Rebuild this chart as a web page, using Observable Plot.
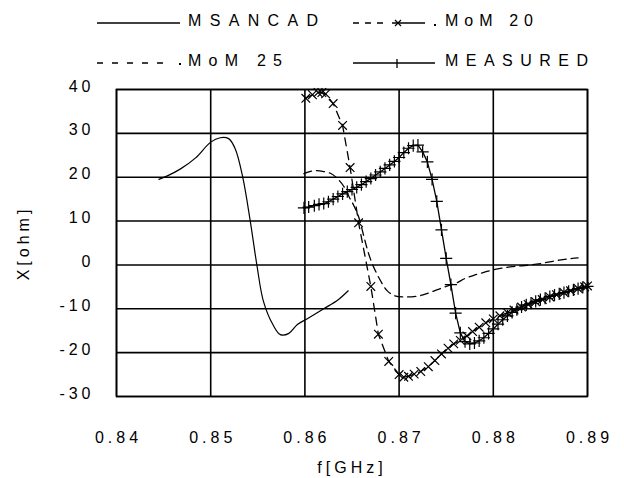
<!DOCTYPE html>
<html>
<head>
<meta charset="utf-8">
<script src="https://cdn.jsdelivr.net/npm/d3@7"></script>
<script src="https://cdn.jsdelivr.net/npm/@observablehq/plot@0.6"></script>
<style>
  html, body { margin: 0; padding: 0; background: #fff; }
  body { width: 624px; height: 478px; overflow: hidden; font-family: "Liberation Sans", Arial, sans-serif; }
  #legend { display: block; }
</style>
</head>
<body>
<svg id="legend" width="624" height="75"></svg>
<div id="chart"></div>
<script>
// ---- Data ----
const xTicks = [0.84, 0.85, 0.86, 0.87, 0.88, 0.89];
const yTicks = [-30, -20, -10, 0, 10, 20, 30, 40];

const seriesNames = ["MSANCAD", "MoM 20", "MoM 25", "MEASURED"];

const msancadF = [0.8445, 0.8454, 0.8468, 0.8484, 0.8500, 0.8510, 0.8519, 0.8526, 0.8534, 0.8542, 0.8549, 0.8556, 0.8566, 0.8574, 0.8583, 0.8592, 0.8603, 0.8620, 0.8635, 0.8646];
const msancadX = [19.5, 20.3, 21.9, 24.4, 28.0, 29.0, 28.8, 26.5, 20.0, 10.0, 0.0, -8.3, -13.6, -15.9, -15.6, -13.6, -12.2, -10.0, -8.0, -5.9];

const mom20F = [0.8601, 0.8608, 0.8614, 0.8618, 0.8622, 0.8630, 0.8640, 0.8648, 0.8657, 0.8670, 0.8678, 0.8689, 0.8700, 0.8705, 0.8710, 0.8716, 0.8723, 0.8731, 0.8738, 0.8745, 0.8752, 0.8758, 0.8765, 0.8772, 0.8778, 0.8785, 0.8792, 0.8800, 0.8807, 0.8815, 0.8822, 0.8830, 0.8837, 0.8845, 0.8852, 0.8860, 0.8867, 0.8875, 0.8882, 0.8890, 0.8897, 0.8900];
const mom20X = [38.0, 38.8, 39.3, 39.3, 39.0, 36.8, 31.8, 22.2, 9.6, -4.9, -15.8, -22.0, -25.0, -25.6, -25.4, -24.9, -24.3, -23.2, -21.8, -20.3, -19.0, -18.0, -17.2, -16.2, -15.2, -14.2, -13.2, -12.3, -11.6, -10.9, -10.3, -9.6, -9.0, -8.4, -7.9, -7.3, -6.8, -6.3, -5.9, -5.4, -5.0, -4.8];

const mom25F = [0.8599, 0.8605, 0.8612, 0.8620, 0.8628, 0.8634, 0.8641, 0.8647, 0.8652, 0.8657, 0.8662, 0.8667, 0.8672, 0.8680, 0.8687, 0.8695, 0.8705, 0.8720, 0.8730, 0.8740, 0.8750, 0.8760, 0.8770, 0.8780, 0.8790, 0.8800, 0.8810, 0.8820, 0.8830, 0.8840, 0.8850, 0.8860, 0.8870, 0.8880, 0.8890];
const mom25X = [20.8, 21.3, 21.5, 21.3, 20.8, 19.8, 18.0, 15.5, 13.5, 11.0, 7.0, 3.0, 0.0, -3.5, -5.8, -7.0, -7.3, -7.1, -6.5, -5.7, -4.9, -4.2, -3.1, -2.3, -1.7, -1.1, -0.7, -0.4, -0.2, 0.0, 0.3, 0.7, 1.1, 1.4, 1.6];

const measF = [0.8599, 0.8604, 0.8610, 0.8615, 0.8620, 0.8625, 0.8630, 0.8635, 0.8640, 0.8645, 0.8650, 0.8655, 0.8660, 0.8665, 0.8670, 0.8675, 0.8680, 0.8685, 0.8690, 0.8695, 0.8700, 0.8705, 0.8710, 0.8715, 0.8720, 0.8725, 0.8730, 0.8735, 0.8740, 0.8745, 0.8750, 0.8755, 0.8760, 0.8765, 0.8770, 0.8775, 0.8780, 0.8785, 0.8790, 0.8795, 0.8800, 0.8805, 0.8810, 0.8815, 0.8820, 0.8825, 0.8830, 0.8835, 0.8840, 0.8845, 0.8850, 0.8855, 0.8860, 0.8865, 0.8870, 0.8875, 0.8880, 0.8885, 0.8890, 0.8895, 0.8900];
const measX = [13.0, 13.2, 13.5, 13.8, 14.0, 14.4, 15.0, 15.6, 16.2, 16.7, 17.2, 17.7, 18.3, 19.0, 19.7, 20.5, 21.2, 22.0, 22.8, 23.6, 24.5, 25.6, 26.6, 27.2, 27.3, 25.8, 23.5, 19.5, 14.5, 8.0, 1.5, -4.5, -11.0, -15.5, -17.5, -18.0, -17.8, -17.3, -16.6, -15.6, -14.6, -13.5, -12.5, -11.6, -10.8, -10.2, -9.6, -9.1, -8.7, -8.3, -7.9, -7.6, -7.2, -6.9, -6.6, -6.3, -6.0, -5.7, -5.4, -5.1, -4.9];

const toRows = (fs, xs) => fs.map((f, i) => ({f, x: xs[i]}));
const msancad = toRows(msancadF, msancadX);
const mom20 = toRows(mom20F, mom20X);
const mom25 = toRows(mom25F, mom25X);
const meas = toRows(measF, measX);

// ---- Legend ----
const ns = "http://www.w3.org/2000/svg";
const lg = document.getElementById("legend");
function el(tag, attrs) {
  const e = document.createElementNS(ns, tag);
  for (const k in attrs) e.setAttribute(k, attrs[k]);
  lg.appendChild(e);
  return e;
}
function label(txt, x, y, len) {
  const t = el("text", {x, y, textLength: len, lengthAdjust: "spacing",
    "font-family": "Liberation Sans, Arial, sans-serif", "font-size": 16, fill: "#000"});
  t.textContent = txt;
}
// MSANCAD
el("line", {x1: 97, x2: 180, y1: 23, y2: 23, stroke: "#000", "stroke-width": 1.3});
label(seriesNames[0], 188, 26, 130);
// MoM 20
el("line", {x1: 353, x2: 388, y1: 23, y2: 23, stroke: "#000", "stroke-width": 1.3, "stroke-dasharray": "6,6"});
el("line", {x1: 392, x2: 425, y1: 23, y2: 23, stroke: "#000", "stroke-width": 1.3});
el("path", {d: "M395,20L401,26M401,20L395,26", stroke: "#000", "stroke-width": 1.2});
el("rect", {x: 434, y: 24, width: 2, height: 2, fill: "#000"});
label(seriesNames[1], 445, 26, 88);
// MoM 25
el("line", {x1: 97, x2: 166, y1: 63, y2: 63, stroke: "#000", "stroke-width": 1.3, "stroke-dasharray": "6,9"});
el("rect", {x: 179, y: 63, width: 2, height: 2, fill: "#000"});
label(seriesNames[2], 188, 66, 94);
// MEASURED
el("line", {x1: 353, x2: 435, y1: 63, y2: 63, stroke: "#000", "stroke-width": 1.3});
el("line", {x1: 397, x2: 397, y1: 59, y2: 68, stroke: "#000", "stroke-width": 1.3});
label(seriesNames[3], 445, 66, 143);

// ---- Chart ----
const textStyle = {fontFamily: "Liberation Sans, Arial, sans-serif", fontSize: "16px", letterSpacing: "4px", color: "#000"};

const chart = Plot.plot({
  width: 624,
  height: 403,
  marginLeft: 116,
  marginRight: 37,
  marginTop: 14,
  marginBottom: 82,
  style: {...textStyle, background: "#fff", overflow: "visible"},
  x: {domain: [0.84, 0.89]},
  y: {domain: [-30, 40]},
  marks: [
    Plot.gridX(xTicks, {stroke: "#000", strokeOpacity: 1, strokeWidth: 1.6}),
    Plot.gridY(yTicks, {stroke: "#000", strokeOpacity: 1, strokeWidth: 1.6}),
    Plot.frame({stroke: "#000", strokeWidth: 1.6}),
    Plot.axisX({ticks: xTicks, tickSize: 0, tickPadding: 35, dx: 2, tickFormat: d => d.toFixed(2),
      label: "f[GHz]", labelAnchor: "center", labelArrow: "none", labelOffset: 76}),
    Plot.axisY({ticks: yTicks, tickSize: 0, tickPadding: 22, dy: -3, tickFormat: d => String(d),
      label: "X[ohm]", labelAnchor: "center", labelArrow: "none", labelOffset: 99}),
    Plot.line(msancad, {x: "f", y: "x", stroke: "#000", strokeWidth: 1.2, curve: "catmull-rom"}),
    Plot.line(mom25, {x: "f", y: "x", stroke: "#000", strokeWidth: 1.3, strokeDasharray: "8,5", curve: "catmull-rom"}),
    Plot.line(mom20, {x: "f", y: "x", stroke: "#000", strokeWidth: 1.3, strokeDasharray: "8,6"}),
    Plot.dot(mom20, {x: "f", y: "x", symbol: "times", stroke: "#000", strokeWidth: 1.2, r: 4}),
    Plot.line(meas, {x: "f", y: "x", stroke: "#000", strokeWidth: 1.3}),
    Plot.dot(meas, {x: "f", y: "x", symbol: "plus", stroke: "#000", strokeWidth: 1.2, r: 4})
  ]
});
document.getElementById("chart").appendChild(chart);
</script>
</body>
</html>
